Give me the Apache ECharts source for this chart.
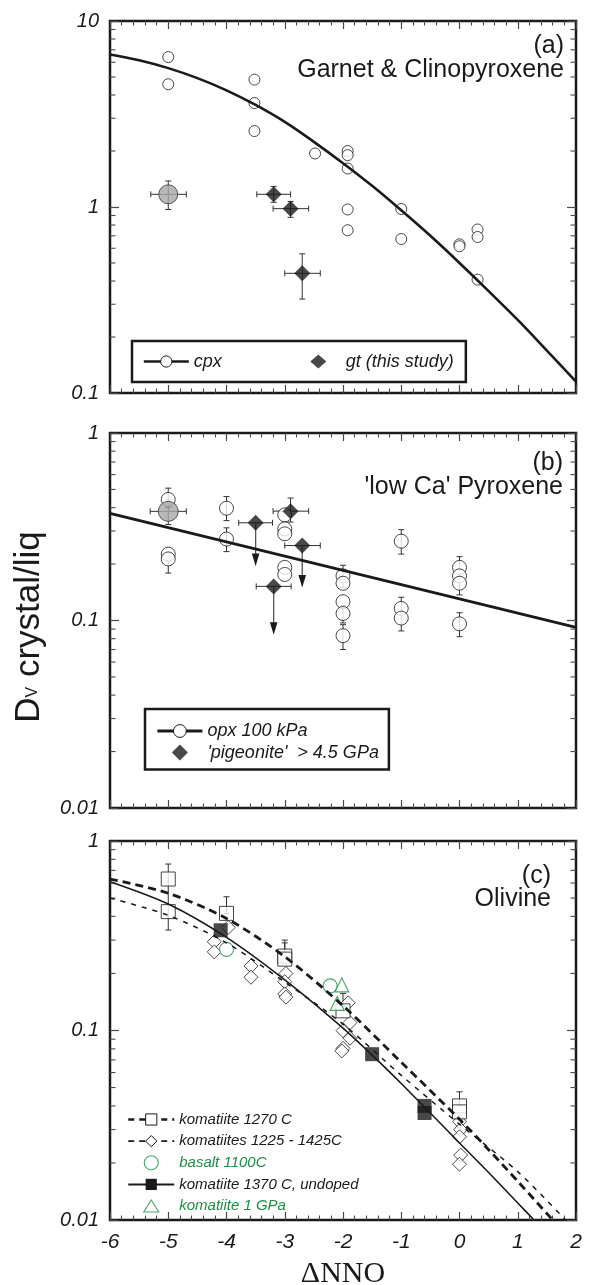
<!DOCTYPE html>
<html><head><meta charset="utf-8">
<script src="https://cdn.jsdelivr.net/npm/echarts/dist/echarts.min.js"></script>
<style>html,body{margin:0;padding:0;background:#fff}#c{width:593px;height:1285px}</style>
</head><body><div id="c"></div>
<script>
// ---------------- DATA ----------------
const xTickValues = [-6, -5, -4, -3, -2, -1, 0, 1, 2];
// Panel (a) Garnet & Clinopyroxene
const cpxPts = [[-5,6.4],[-5,4.57],[-3.52,4.84],[-3.52,3.62],[-3.52,2.56],[-2.48,1.94],[-1.92,2.0],[-1.92,1.9],[-1.92,1.61],[-1.92,0.97],[-1.92,0.75],[-1.0,0.975],[-1.0,0.673],[0,0.63],[0,0.615],[0.31,0.757],[0.31,0.69],[0.31,0.407]];
const cpxFit = [[-6,6.61],[-5.5,6.15],[-5,5.58],[-4.5,4.93],[-4,4.24],[-3.5,3.54],[-3,2.87],[-2.5,2.24],[-2,1.72],[-1.5,1.3],[-1,0.96],[-0.5,0.70],[0,0.50],[0.5,0.353],[1,0.247],[1.5,0.169],[2,0.115]];
const gtPts = [[-3.19,1.17],[-2.9,0.98],[-2.7,0.44]];
const gtXErr = [[-3.48,-2.90,1.17],[-3.20,-2.59,0.98],[-3.0,-2.39,0.44]];
const gtYErr = [[-3.19,1.06,1.29],[-2.9,0.88,1.07],[-2.7,0.32,0.56]];
const grayAPts = [[-5,1.17]];
const grayAXErr = [[-5.30,-4.69,1.17]];
const grayAYErr = [[-5,0.97,1.38]];
// Panel (b) 'low Ca' Pyroxene
const opxPts = [[-5,0.442],[-5,0.226],[-5,0.213],[-4,0.397],[-4,0.272],[-3,0.366],[-3,0.308],[-3,0.29],[-3,0.192],[-3,0.176],[-2,0.173],[-2,0.158],[-2,0.126],[-2,0.109],[-2,0.083],[-1,0.265],[-1,0.116],[-1,0.103],[0,0.192],[0,0.173],[0,0.158],[0,0.096]];
const opxYErr = [[-5,0.40,0.508],[-5,0.179,0.21],[-4,0.341,0.458],[-4,0.233,0.312],[-2,0.15,0.197],[-2,0.097,0.12],[-2,0.070,0.095],[-1,0.226,0.305],[-1,0.088,0.133],[0,0.137,0.219],[0,0.082,0.110]];
const opxFit = [[-6,0.373],[2,0.092]];
const pigPts = [[-3.5,0.332],[-3.19,0.152],[-2.9,0.383],[-2.7,0.251]];
const pigXErr = [[-3.79,-3.21,0.332],[-3.49,-2.89,0.152],[-3.20,-2.59,0.383],[-3.0,-2.39,0.251]];
const pigYErr = [[-2.9,0.335,0.45]];
const pigArrows = [[-3.5,0.332,0.195],[-3.19,0.152,0.084],[-2.7,0.251,0.150]];
const grayBPts = [[-5,0.382]];
const grayBXErr = [[-5.31,-4.69,0.382]];
const grayBYErr = [[-5,0.325,0.44]];
// Panel (c) Olivine
const k1270Pts = [[-5,0.630],[-5,0.424],[-4,0.415],[-3,0.247],[-3,0.238],[-2,0.127],[0,0.040],[0,0.0372]];
const k1270YErr = [[-5,0.339,0.756],[-4,0.415,0.508],[-3,0.247,0.30],[-3,0.247,0.29],[-2,0.127,0.157],[0,0.040,0.0475]];
const k1225Pts = [[-4.21,0.294],[-4.21,0.26],[-3.97,0.35],[-3.58,0.219],[-3.58,0.191],[-2.98,0.20],[-3.0,0.181],[-3.0,0.156],[-2.98,0.150],[-1.91,0.140],[-1.88,0.110],[-2.0,0.0998],[-1.88,0.091],[-2.0,0.0805],[-2.02,0.078],[0,0.033],[0.02,0.030],[0,0.0275],[0.02,0.022],[0,0.0197]];
const k1370Pts = [[-4.1,0.338],[-1.5,0.075],[-0.6,0.040],[-0.6,0.0367]];
const basaltPts = [[-4.0,0.268],[-2.22,0.172]];
const k1GPaPts = [[-2.02,0.174],[-2.10,0.139]];
const k1270Fit = [[-6,0.63],[-5,0.53],[-4,0.39],[-3,0.245],[-2,0.135],[-1,0.068],[0,0.034],[0.5,0.0235],[1,0.016],[1.6,0.01]];
const k1225Fit = [[-6,0.50],[-5,0.405],[-4,0.29],[-3,0.18],[-2,0.108],[-1,0.058],[0,0.032],[1,0.018],[1.82,0.01]];
const k1370Fit = [[-6,0.61],[-5,0.465],[-4,0.31],[-3,0.185],[-2,0.103],[-1.5,0.0741],[-1,0.0525],[0,0.0255],[0.5,0.0178],[1,0.0123],[1.28,0.01]];

// ---------------- STYLE / LAYOUT ----------------
const FONT = "'Liberation Sans', Arial, Helvetica, sans-serif";
const INK = '#1a1a1a';
const TICK = '#4a4a4a';
const GREEN = '#1f8f45';
const GRAY = '#a8a8a8';
const grids = [
  {left:110, top:21, width:466, height:372},
  {left:110, top:433, width:466, height:375},
  {left:110, top:841, width:466, height:379}
];
const yRanges = [[0.1,10],[0.01,1],[0.01,1]];

function minorVals(lo, hi){
  const out=[];
  for(let d=lo; d<hi-1e-12; d*=10){ for(let k=2;k<=9;k++) out.push([-6, +(k*d).toPrecision(3)]); }
  return out;
}
function minorTickRender(params, api){
  const cs = params.coordSys;
  const p = api.coord([api.value(0), api.value(1)]);
  const L = 5.5, st={stroke:TICK, lineWidth:1.1};
  return {type:'group', children:[
    {type:'line', shape:{x1:cs.x, y1:p[1], x2:cs.x+L, y2:p[1]}, style:st},
    {type:'line', shape:{x1:cs.x+cs.width-L, y1:p[1], x2:cs.x+cs.width, y2:p[1]}, style:st}
  ]};
}
function vErrRender(params, api){
  const a = api.coord([api.value(0), api.value(1)]), b = api.coord([api.value(0), api.value(2)]);
  const st={stroke:'#333', lineWidth:1}, c=3;
  return {type:'group', children:[
    {type:'line', shape:{x1:a[0],y1:a[1],x2:b[0],y2:b[1]}, style:st},
    {type:'line', shape:{x1:a[0]-c,y1:a[1],x2:a[0]+c,y2:a[1]}, style:st},
    {type:'line', shape:{x1:b[0]-c,y1:b[1],x2:b[0]+c,y2:b[1]}, style:st}
  ]};
}
function hErrRender(params, api){
  const a = api.coord([api.value(0), api.value(2)]), b = api.coord([api.value(1), api.value(2)]);
  const st={stroke:'#333', lineWidth:1}, c=3;
  return {type:'group', children:[
    {type:'line', shape:{x1:a[0],y1:a[1],x2:b[0],y2:b[1]}, style:st},
    {type:'line', shape:{x1:a[0],y1:a[1]-c,x2:a[0],y2:a[1]+c}, style:st},
    {type:'line', shape:{x1:b[0],y1:b[1]-c,x2:b[0],y2:b[1]+c}, style:st}
  ]};
}
function arrowRender(params, api){
  const a = api.coord([api.value(0), api.value(1)]), t = api.coord([api.value(0), api.value(2)]);
  return {type:'group', children:[
    {type:'line', shape:{x1:a[0],y1:a[1],x2:t[0],y2:t[1]-10}, style:{stroke:'#555', lineWidth:1.3}},
    {type:'polygon', shape:{points:[[t[0]-3.8,t[1]-12.5],[t[0]+3.8,t[1]-12.5],[t[0],t[1]]]}, style:{fill:INK}}
  ]};
}

const xAxes=[], yAxes=[];
grids.forEach((g,i)=>{
  const base = {
    type:'value', gridIndex:i, min:-6, max:2, interval:1,
    axisLine:{show:false, onZero:false}, splitLine:{show:false},
    axisTick:{show:true, inside:true, length:8, lineStyle:{color:TICK, width:1.2}},
    minorTick:{show:true, splitNumber:5, length:4.5, lineStyle:{color:TICK, width:1.1}},
  };
  xAxes.push(Object.assign({}, base, {position:'bottom',
    axisLabel:{show:i===2, margin:12, fontSize:21, fontStyle:'italic', fontFamily:FONT, color:INK,
      formatter:(v)=> xTickValues.indexOf(v)>=0 ? String(v) : ''},
    name: i===2 ? 'ΔNNO' : '', nameLocation:'middle', nameGap:39,
    nameTextStyle:{fontFamily:"'Liberation Serif', 'Times New Roman', serif", fontSize:30, color:INK}
  }));
  xAxes.push(Object.assign({}, base, {position:'top', axisLabel:{show:false}}));
  const ybase = {type:'log', logBase:10, gridIndex:i, min:yRanges[i][0], max:yRanges[i][1],
    axisLine:{show:false, onZero:false}, splitLine:{show:false}, minorTick:{show:false},
    axisTick:{show:true, inside:true, length:9, lineStyle:{color:TICK, width:1.2}}};
  yAxes.push(Object.assign({}, ybase, {position:'left',
    axisLabel:{show:true, margin:11, fontSize:20, fontStyle:'italic', fontFamily:FONT, color:INK,
      formatter:(v)=> String(+(+v).toPrecision(3))}}));
  yAxes.push(Object.assign({}, ybase, {position:'right', axisLabel:{show:false}}));
});

const openSym = {color:'#fff', borderColor:INK, borderWidth:1};
const series = [];
function add(s){ s.silent=true; s.animation=false; series.push(s); }
// minor log ticks
grids.forEach((g,i)=> add({type:'custom', name:'minor'+i, xAxisIndex:2*i, yAxisIndex:2*i, renderItem:minorTickRender, data:minorVals(yRanges[i][0], yRanges[i][1]), z:3}));

// ---- panel a
add({type:'line', name:'cpx', xAxisIndex:0, yAxisIndex:0, data:cpxFit, smooth:0.4, showSymbol:false, symbol:'circle',
  lineStyle:{color:INK, width:2.6}, itemStyle:openSym});
add({type:'custom', name:'ea1', xAxisIndex:0, yAxisIndex:0, renderItem:hErrRender, data:gtXErr.concat(grayAXErr), encode:{x:[0,1], y:2}});
add({type:'custom', name:'ea2', xAxisIndex:0, yAxisIndex:0, renderItem:vErrRender, data:gtYErr.concat(grayAYErr), encode:{x:0, y:[1,2]}});
add({type:'scatter', name:'cpx points', xAxisIndex:0, yAxisIndex:0, data:cpxPts, symbol:'circle', symbolSize:11, itemStyle:openSym});
add({type:'scatter', name:'gray a', xAxisIndex:0, yAxisIndex:0, data:grayAPts, symbol:'circle', symbolSize:19, itemStyle:{color:GRAY, borderColor:'#333', borderWidth:1}});
add({type:'scatter', name:'gt (this study)', xAxisIndex:0, yAxisIndex:0, data:gtPts, symbol:'diamond', symbolSize:16, itemStyle:{color:INK}});

// ---- panel b
add({type:'line', name:'opx 100 kPa', xAxisIndex:2, yAxisIndex:2, data:opxFit, showSymbol:false, symbol:'circle',
  lineStyle:{color:INK, width:2.8}, itemStyle:openSym});
add({type:'custom', name:'eb1', xAxisIndex:2, yAxisIndex:2, renderItem:vErrRender, data:opxYErr.concat(pigYErr, grayBYErr), encode:{x:0, y:[1,2]}});
add({type:'custom', name:'eb2', xAxisIndex:2, yAxisIndex:2, renderItem:hErrRender, data:pigXErr.concat(grayBXErr), encode:{x:[0,1], y:2}});
add({type:'custom', name:'arrows', xAxisIndex:2, yAxisIndex:2, renderItem:arrowRender, data:pigArrows, encode:{x:0, y:[1,2]}});
add({type:'scatter', name:'opx points', xAxisIndex:2, yAxisIndex:2, data:opxPts, symbol:'circle', symbolSize:14, itemStyle:openSym});
add({type:'scatter', name:'gray b', xAxisIndex:2, yAxisIndex:2, data:grayBPts, symbol:'circle', symbolSize:20, itemStyle:{color:GRAY, borderColor:'#333', borderWidth:1}});
add({type:'scatter', name:"'pigeonite'  > 4.5 GPa", xAxisIndex:2, yAxisIndex:2, data:pigPts, symbol:'diamond', symbolSize:16, itemStyle:{color:INK}});

// ---- panel c
add({type:'line', name:'komatiite 1270 C', xAxisIndex:4, yAxisIndex:4, data:k1270Fit, smooth:0.3, showSymbol:false, symbol:'rect',
  lineStyle:{color:INK, width:2.8, type:[8,5]}, itemStyle:openSym});
add({type:'line', name:'komatiites 1225 - 1425C', xAxisIndex:4, yAxisIndex:4, data:k1225Fit, smooth:0.3, showSymbol:false, symbol:'diamond',
  lineStyle:{color:INK, width:1.5, type:[5,6]}, itemStyle:openSym});
add({type:'line', name:'komatiite 1370 C, undoped', xAxisIndex:4, yAxisIndex:4, data:k1370Fit, smooth:0.3, showSymbol:false, symbol:'rect',
  lineStyle:{color:INK, width:1.6}, itemStyle:{color:INK}});
add({type:'custom', name:'ec1', xAxisIndex:4, yAxisIndex:4, renderItem:vErrRender, data:k1270YErr, encode:{x:0, y:[1,2]}});
add({type:'scatter', name:'k1225 points', xAxisIndex:4, yAxisIndex:4, data:k1225Pts, symbol:'diamond', symbolSize:14, itemStyle:openSym});
add({type:'scatter', name:'k1270 points', xAxisIndex:4, yAxisIndex:4, data:k1270Pts, symbol:'rect', symbolSize:14, itemStyle:openSym});
add({type:'scatter', name:'k1370 points', xAxisIndex:4, yAxisIndex:4, data:k1370Pts, symbol:'rect', symbolSize:14, itemStyle:{color:INK}});
add({type:'scatter', name:'basalt 1100C', xAxisIndex:4, yAxisIndex:4, data:basaltPts, symbol:'circle', symbolSize:14, itemStyle:{color:'#fff', borderColor:GREEN, borderWidth:1.1}});
add({type:'scatter', name:'komatiite 1 GPa', xAxisIndex:4, yAxisIndex:4, data:k1GPaPts, symbol:'triangle', symbolSize:14, itemStyle:{color:'#fff', borderColor:GREEN, borderWidth:1.1}});

// legend icons: symbol centred in the full icon box (keeps aspect)
const iconDiamondA = 'path://M0 0M45 14M22.5 0L30.5 7L22.5 14L14.5 7Z';
const iconDiamondB = 'path://M0 0M45 16M22.5 0L30.5 8L22.5 16L14.5 8Z';
const iconTriC = 'path://M0 0M46 14M23 1L30.5 13L15.5 13Z';
const legText = {fontFamily:FONT, fontStyle:'italic', color:INK};
const legends = [
  {left:132, top:341, orient:'horizontal', itemWidth:45, itemHeight:14, itemGap:74, padding:[11.5,12,11.5,10.5],
   borderColor:INK, borderWidth:2.5, selectedMode:false, textStyle:Object.assign({fontSize:18}, legText),
   data:[{name:'cpx', itemStyle:openSym, lineStyle:{color:INK, width:2.6}}, {name:'gt (this study)', icon:iconDiamondA, itemStyle:{color:INK}}]},
  {left:145, top:709, orient:'vertical', itemWidth:45, itemHeight:16, itemGap:3.5, padding:[13,10,8,11],
   borderColor:INK, borderWidth:2.5, selectedMode:false, textStyle:Object.assign({fontSize:18}, legText),
   data:[{name:'opx 100 kPa', itemStyle:openSym, lineStyle:{color:INK, width:2.8}}, {name:"'pigeonite'  > 4.5 GPa", icon:iconDiamondB, itemStyle:{color:INK}}]},
  {left:127, top:1112, orient:'vertical', itemWidth:46, itemHeight:14, itemGap:6.6, padding:0,
   selectedMode:false, textStyle:Object.assign({fontSize:15}, legText),
   data:[
     {name:'komatiite 1270 C', itemStyle:openSym, lineStyle:{color:INK, width:2.5, type:[6,5]}},
     {name:'komatiites 1225 - 1425C', itemStyle:openSym, lineStyle:{color:INK, width:1.8, type:[6,5]}},
     {name:'basalt 1100C', textStyle:{color:GREEN}, itemStyle:{color:'#fff', borderColor:GREEN, borderWidth:1.1}},
     {name:'komatiite 1370 C, undoped', itemStyle:{color:INK}, lineStyle:{color:INK, width:2}},
     {name:'komatiite 1 GPa', icon:iconTriC, textStyle:{color:GREEN}, itemStyle:{color:'#fff', borderColor:GREEN, borderWidth:1.1}}
   ]}
];

function label(text, x, y){
  return {type:'text', x:x, y:y, silent:true, style:{text:text, fill:INK, font:"25px "+FONT, align:'right', verticalAlign:'middle'}};
}
const graphic = [
  label('(a)', 564, 46.5), label('Garnet & Clinopyroxene', 564, 70),
  label('(b)', 563, 463), label("'low Ca' Pyroxene", 563, 487),
  label('(c)', 551, 876), label('Olivine', 551, 899),
  {type:'text', x:29, y:627, rotation:Math.PI/2, silent:true,
   style:{text:'{m|D}{s|V}{m| crystal/liq}', align:'center', verticalAlign:'middle',
     rich:{m:{fontSize:35, fontFamily:FONT, fill:INK}, s:{fontSize:16, fontFamily:FONT, fill:INK, padding:[8,0,0,0]}}}}
];

const chart = echarts.init(document.getElementById('c'), null, {renderer:'canvas'});
chart.setOption({
  animation:false,
  backgroundColor:'#fff',
  grid: grids.map(g=>Object.assign({show:true, borderColor:INK, borderWidth:2.5, backgroundColor:'transparent', containLabel:false, outerBoundsMode:'none'}, g)),
  xAxis:xAxes, yAxis:yAxes, series:series, legend:legends, graphic:graphic, tooltip:{show:false}
});
</script></body></html>
